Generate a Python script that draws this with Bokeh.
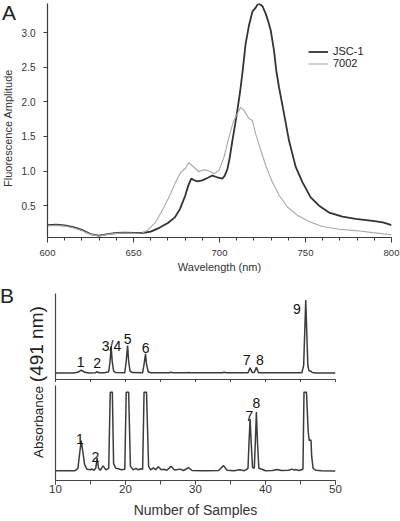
from bokeh.plotting import figure
from bokeh.models import (Legend, LegendItem, SingleIntervalTicker, FixedTicker,
                          PrintfTickFormatter, Range1d, Div)
from bokeh.layouts import column, row
from bokeh.embed import file_html
from bokeh.resources import INLINE
from bokeh.core.properties import value

FONT = "Liberation Sans"

# ---------------- Panel A data (fluorescence emission) ----------------
wl_jsc = [600, 605, 610, 615, 620, 625, 630, 635, 640, 645, 650, 655, 660, 665, 670, 674,
          677, 680, 682, 683.6, 685, 687, 690, 693, 695.8, 698.7, 701.6, 703, 704.6, 706,
          707.5, 709, 710.4, 712, 713.3, 715.2, 717.2, 719.1, 721, 722, 723, 725, 726.9,
          728.5, 729.8, 731.7, 733, 734.6, 737.5, 740.4, 744.3, 748.2, 753, 757.9, 763.7,
          771.5, 779.2, 789, 795, 800]
amp_jsc = [0.22, 0.225, 0.215, 0.19, 0.15, 0.09, 0.066, 0.09, 0.105, 0.11, 0.105, 0.105,
           0.125, 0.18, 0.25, 0.33, 0.45, 0.64, 0.80, 0.89, 0.87, 0.85, 0.865, 0.90, 0.935,
           0.91, 0.89, 0.93, 1.03, 1.20, 1.44, 1.66, 1.88, 2.15, 2.41, 2.84, 3.11, 3.30, 3.36,
           3.40, 3.42, 3.38, 3.27, 3.15, 3.03, 2.74, 2.45, 2.21, 1.83, 1.44, 1.06, 0.84, 0.62,
           0.50, 0.40, 0.34, 0.31, 0.28, 0.26, 0.22]

wl_7002 = [600, 605, 610, 615, 620, 625, 630, 635, 640, 645, 650, 655, 658, 662.8, 666.7,
           670.6, 674.5, 677.4, 680.3, 682.2, 685.1, 688, 691, 693.9, 696.8, 699.7, 702.6,
           705.5, 708, 710.4, 712.3, 714.2, 717.1, 719.1, 721, 724, 726.9, 730.7, 734.6,
           739.5, 745.3, 752, 759.8, 769.5, 779.2, 789, 800]
amp_7002 = [0.21, 0.215, 0.205, 0.18, 0.14, 0.085, 0.06, 0.085, 0.10, 0.105, 0.10, 0.105,
            0.14, 0.26, 0.43, 0.62, 0.84, 0.98, 1.04, 1.12, 1.055, 0.99, 1.02, 1.0, 0.96,
            1.01, 1.20, 1.49, 1.71, 1.83, 1.92, 1.88, 1.76, 1.73, 1.54, 1.30, 1.08, 0.84,
            0.65, 0.48, 0.36, 0.27, 0.20, 0.16, 0.14, 0.11, 0.08]

series_names = ["JSC-1", "7002"]

# ---------------- Panel B data (HPLC traces, absorbance at 491 nm) ----------------
top_trace = [(10.0, 0.3), (12.5, 0.3), (13.2, 0.9), (13.67, 3.0), (14.2, 0.9), (14.8, 0.3),
             (15.7, 0.4), (15.95, 1.5), (16.2, 0.4), (17.0, 0.4), (17.6, 1.5), (17.8, 12),
             (17.95, 26.7), (18.1, 12), (18.3, 2), (18.6, 0.6), (19.9, 0.5), (20.1, 12),
             (20.3, 27.7), (20.45, 12), (20.65, 2), (21.0, 0.6), (22.45, 0.5), (22.65, 9),
             (22.86, 19.4), (23.0, 9), (23.25, 1.5), (23.6, 0.5), (26.2, 0.4), (26.5, 0.9),
             (26.8, 0.4), (28.8, 0.4), (29.0, 0.8), (29.2, 0.4), (33.8, 0.4), (34.1, 0.9),
             (34.4, 0.4), (37.5, 0.4), (37.8, 5.4), (38.1, 0.8), (38.4, 0.8), (38.7, 6.0),
             (39.0, 0.5), (45.2, 0.4), (45.45, 8), (45.6, 40), (45.75, 73.4), (45.9, 40),
             (46.05, 8), (46.2, 2.5), (46.5, 2.0), (46.7, 0.7), (47.2, 0.3), (50.0, 0.2)]

bottom_trace = [(10.0, 0.5), (12.8, 0.5), (13.2, 3), (13.45, 18), (13.67, 31), (13.9, 20),
                (14.15, 7), (14.5, 2), (15.0, 1.5), (15.2, 2.5), (15.5, 1), (15.75, 3),
                (15.95, 13.7), (16.15, 3), (16.4, 1), (16.8, 5.5), (17.2, 1.5), (17.6, 3),
                (17.82, 80), (18.12, 80), (18.3, 8), (18.6, 3), (19.0, 2.5), (19.4, 1.5),
                (19.9, 2), (20.1, 80), (20.45, 80), (20.7, 5), (21.1, 1.5), (21.5, 3),
                (21.8, 1.5), (22.2, 2.5), (22.45, 2), (22.65, 80), (23.0, 80), (23.3, 5),
                (23.6, 1.5), (24.0, 3.5), (24.3, 1.5), (24.7, 4.5), (25.1, 1.5), (25.5, 2),
                (25.9, 1), (26.5, 5), (27.0, 1.2), (27.8, 2.2), (28.3, 0.8), (29.0, 3.8),
                (29.5, 0.8), (31.0, 0.5), (33.3, 0.8), (34.0, 5.7), (34.5, 1.0), (35.5, 0.5),
                (36.3, 1.5), (37.0, 0.6), (37.5, 3), (37.65, 30), (37.8, 52.7), (37.95, 30),
                (38.15, 4), (38.4, 3), (38.55, 30), (38.7, 60), (38.85, 30), (39.05, 3),
                (39.5, 2), (40.0, 0.6), (41.0, 0.8), (41.6, 1.8), (42.3, 0.8), (43.3, 1),
                (43.8, 2.2), (44.1, 1.2), (44.3, 1.8), (44.8, 0.8), (45.35, 2), (45.5, 80),
                (45.85, 80), (46.1, 40), (46.25, 31), (46.5, 31.7), (46.6, 15), (46.8, 3),
                (47.2, 1), (48.0, 0.5), (50.0, 0.3)]

top_labels = ["1", "2", "3/4", "5", "6", "7", "8", "9"]
top_label_x = [13.6, 15.95, 18.0, 20.3, 22.86, 37.3, 39.2, 44.5]
top_label_y = [11, 10, 27, 34.4, 25.7, 13.7, 13.7, 64.4]

bottom_labels = ["1", "2", "7", "8"]
bottom_label_x = [13.5, 15.7, 37.7, 38.7]
bottom_label_y = [32.7, 14.7, 56, 69]

b_tick_positions = [10, 15, 20, 25, 30, 35, 40, 45, 50]

AXIS = "#3a3a3a"
TRACE = "#3c3c3c"

# ---------------- Panel A ----------------
pA = figure(width=382, height=276, output_backend="svg", toolbar_location=None,
            x_range=Range1d(600, 800), y_range=Range1d(0.04, 3.42),
            min_border_left=29, min_border_right=9, min_border_top=3, min_border_bottom=39)
pA.outline_line_color = None
pA.grid.visible = False

r1 = pA.line(wl_jsc, amp_jsc, color="#333333", line_width=1.8)
r2 = pA.line(wl_7002, amp_7002, color="#a8a8a8", line_width=1.1)

legend = Legend(items=[LegendItem(label=series_names[0], renderers=[r1]),
                       LegendItem(label=series_names[1], renderers=[r2])],
                location=(261, 168), padding=0, margin=0, spacing=0,
                glyph_width=20, glyph_height=11, label_height=11, label_standoff=5,
                label_text_font=FONT, label_text_font_size="11px", label_text_color="#222222",
                border_line_color=None, background_fill_alpha=0)
pA.add_layout(legend)

xa = pA.xaxis[0]
xa.ticker = SingleIntervalTicker(interval=50, num_minor_ticks=5)
xa.axis_label = "Wavelength (nm)"
ya = pA.yaxis[0]
ya.ticker = SingleIntervalTicker(interval=0.5, num_minor_ticks=0)
ya.formatter = PrintfTickFormatter(format="%.1f")
for ax in (xa, ya):
    ax.axis_line_color = AXIS
    ax.axis_line_width = 1.2
    ax.major_tick_line_color = AXIS
    ax.minor_tick_line_color = AXIS
    ax.major_tick_in = 0
    ax.minor_tick_in = 0
    ax.major_label_text_font = FONT
    ax.major_label_text_color = "#333333"
    ax.axis_label_text_font = FONT
    ax.axis_label_text_font_size = "11px"
    ax.axis_label_text_font_style = "normal"
    ax.axis_label_text_color = "#333333"
xa.major_label_text_font_size = "9.5px"
ya.major_label_text_font_size = "10px"
xa.major_tick_out = 5
xa.minor_tick_out = 3
xa.major_label_standoff = 7
xa.axis_label_standoff = 2
ya.major_tick_out = 4
ya.major_label_standoff = 8

label_a_html = (
    '<div style="position:relative;width:18px;height:276px;'
    "font-family:'Liberation Sans',Arial,sans-serif;color:#222222;\">"
    '<div style="position:absolute;left:2px;top:2px;font-size:21px;line-height:21px;">A</div>'
    '<div style="position:absolute;left:2px;top:187px;transform:rotate(-90deg);'
    'transform-origin:0 0;white-space:nowrap;font-size:11px;line-height:13px;color:#333333;">'
    'Fluorescence Amplitude</div>'
    '</div>'
)
divA = Div(text=label_a_html, width=18, height=276, margin=0)

# ---------------- Panel B ----------------
xr = Range1d(10, 50)


def style_b(p, show_labels):
    p.outline_line_color = None
    p.grid.visible = False
    xa = p.xaxis[0]
    ya = p.yaxis[0]
    ya.ticker = FixedTicker(ticks=[])
    for ax in (xa, ya):
        ax.axis_line_color = "#444444"
        ax.axis_line_width = 1.2
        ax.major_tick_line_color = "#444444"
        ax.minor_tick_line_color = "#444444"
        ax.major_tick_in = 0
        ax.minor_tick_in = 0
    ya.major_tick_out = 0
    ya.minor_tick_out = 0
    ya.major_label_standoff = 0
    if show_labels:
        xa.ticker = SingleIntervalTicker(interval=10, num_minor_ticks=2)
        xa.major_tick_out = 4
        xa.minor_tick_out = 4
        xa.major_label_text_font = FONT
        xa.major_label_text_font_size = "11.5px"
        xa.major_label_text_color = "#333333"
        xa.major_label_standoff = 0
        xa.axis_label = "Number of Samples"
        xa.axis_label_text_font = FONT
        xa.axis_label_text_font_size = "14px"
        xa.axis_label_text_font_style = "normal"
        xa.axis_label_text_color = "#333333"
        xa.axis_label_standoff = 6
    else:
        xa.ticker = FixedTicker(ticks=[], minor_ticks=b_tick_positions)
        xa.major_tick_out = 3
        xa.minor_tick_out = 3
        xa.major_label_standoff = 0


pBt = figure(width=352, height=106, output_backend="svg", toolbar_location=None,
             x_range=xr, y_range=Range1d(-6.3, 80),
             min_border_left=7, min_border_right=65, min_border_top=17, min_border_bottom=3)
style_b(pBt, False)
pBt.line([p[0] for p in top_trace], [p[1] for p in top_trace], color=TRACE, line_width=1.5)
pBt.text(x=top_label_x, y=top_label_y, text=top_labels, text_align="center",
         text_baseline="alphabetic", text_font=value(FONT), text_font_size="14px",
         text_color="#111111")

pBb = figure(width=352, height=138, output_backend="svg", toolbar_location=None,
             x_range=xr, y_range=Range1d(-9.3, 86.7),
             min_border_left=7, min_border_right=65, min_border_top=3, min_border_bottom=39)
style_b(pBb, True)
pBb.line([p[0] for p in bottom_trace], [p[1] for p in bottom_trace], color=TRACE, line_width=1.5)
pBb.text(x=bottom_label_x, y=bottom_label_y, text=bottom_labels, text_align="center",
         text_baseline="alphabetic", text_font=value(FONT), text_font_size="14px",
         text_color="#111111")

label_b_html = (
    '<div style="position:relative;width:48px;height:244px;'
    "font-family:'Liberation Sans',Arial,sans-serif;color:#222222;\">"
    '<div style="position:absolute;left:0px;top:9px;font-size:21px;line-height:21px;">B</div>'
    '<div style="position:absolute;left:26px;top:182px;transform:rotate(-90deg);'
    'transform-origin:0 0;white-space:nowrap;line-height:22px;font-size:13.5px;">'
    'Absorbance <span style="font-size:19px;">(491 nm)</span></div>'
    '</div>'
)
divB = Div(text=label_b_html, width=48, height=244, margin=0)

layout = column(row(divA, pA), row(divB, column(pBt, pBb)))

open("out.html", "w").write(file_html(layout, INLINE))
